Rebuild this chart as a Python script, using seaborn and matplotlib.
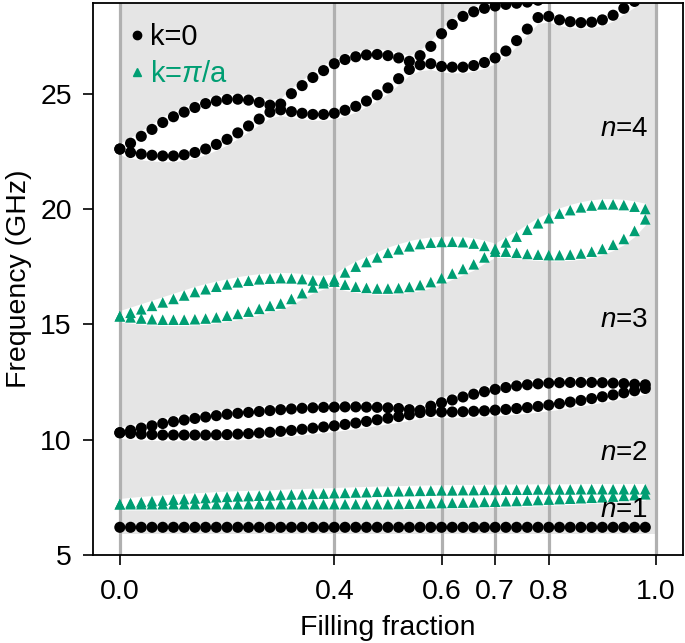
import numpy as np
import pandas as pd
import seaborn as sns
import matplotlib.pyplot as plt
from matplotlib.lines import Line2D

# filling fraction of every computed point
ff = [round(0.02 * i, 2) for i in range(50)]

# band n=1, k=0
k0_n1 = [6.2] * 50

# band n=1, k=pi/a (upper / lower branch)
kpi_n1_up = [7.20, 7.25, 7.29, 7.33, 7.36, 7.40, 7.42, 7.45, 7.47, 7.50,
             7.52, 7.54, 7.55, 7.57, 7.58, 7.60, 7.62, 7.63, 7.65, 7.66,
             7.68, 7.69, 7.71, 7.72, 7.74, 7.75, 7.76, 7.77, 7.78, 7.79,
             7.80, 7.80, 7.81, 7.81, 7.82, 7.82, 7.83, 7.83, 7.83, 7.84,
             7.84, 7.84, 7.84, 7.85, 7.85, 7.85, 7.85, 7.85, 7.85, 7.85]
kpi_n1_lo = [7.20, 7.20, 7.20, 7.20, 7.20, 7.20, 7.20, 7.20, 7.20, 7.20,
             7.20, 7.20, 7.20, 7.20, 7.20, 7.20, 7.20, 7.20, 7.20, 7.20,
             7.20, 7.20, 7.20, 7.20, 7.20, 7.20, 7.21, 7.22, 7.23, 7.24,
             7.25, 7.26, 7.27, 7.28, 7.30, 7.31, 7.33, 7.34, 7.36, 7.38,
             7.40, 7.42, 7.44, 7.46, 7.48, 7.50, 7.53, 7.56, 7.59, 7.63]

# band n=2, k=0
k0_n2_up = [10.30, 10.40, 10.50, 10.60, 10.70, 10.78, 10.85, 10.92, 10.98, 11.04,
            11.10, 11.14, 11.18, 11.22, 11.26, 11.30, 11.33, 11.36, 11.38, 11.40,
            11.41, 11.42, 11.42, 11.41, 11.40, 11.38, 11.35, 11.30, 11.27, 11.45,
            11.60, 11.72, 11.85, 11.97, 12.08, 12.18, 12.26, 12.33, 12.38, 12.42,
            12.45, 12.47, 12.48, 12.48, 12.48, 12.47, 12.45, 12.43, 12.40, 12.38]
k0_n2_lo = [10.30, 10.27, 10.24, 10.22, 10.20, 10.20, 10.20, 10.20, 10.20, 10.21,
            10.22, 10.24, 10.26, 10.29, 10.32, 10.36, 10.40, 10.45, 10.50, 10.55,
            10.60, 10.66, 10.72, 10.79, 10.86, 10.93, 11.00, 11.08, 11.17, 11.22,
            11.20, 11.20, 11.21, 11.23, 11.25, 11.28, 11.31, 11.35, 11.39, 11.44,
            11.50, 11.56, 11.63, 11.70, 11.78, 11.86, 11.94, 12.03, 12.12, 12.22]

# band n=3, k=pi/a
kpi_n3_up = [15.35, 15.50, 15.65, 15.80, 15.95, 16.10, 16.25, 16.40, 16.52, 16.63,
             16.73, 16.82, 16.89, 16.95, 16.98, 17.00, 16.99, 16.96, 16.90, 16.88,
             16.95, 17.25, 17.50, 17.70, 17.90, 18.10, 18.25, 18.38, 18.48, 18.54,
             18.57, 18.58, 18.56, 18.50, 18.40, 18.27, 18.55, 18.80, 19.10, 19.38,
             19.60, 19.80, 19.95, 20.07, 20.15, 20.20, 20.20, 20.17, 20.10, 20.00]
kpi_n3_lo = [15.35, 15.30, 15.25, 15.22, 15.20, 15.20, 15.20, 15.22, 15.25, 15.30,
             15.37, 15.45, 15.55, 15.67, 15.80, 15.90, 16.10, 16.35, 16.60, 16.78,
             16.85, 16.72, 16.63, 16.58, 16.55, 16.55, 16.57, 16.62, 16.70, 16.83,
             17.00, 17.20, 17.40, 17.60, 17.90, 18.15, 18.15, 18.10, 18.05, 18.02,
             18.00, 18.00, 18.02, 18.07, 18.15, 18.27, 18.45, 18.70, 19.05, 19.55]

# band n=4, k=0
k0_n4_up = [22.60, 22.85, 23.15, 23.45, 23.75, 24.00, 24.20, 24.40, 24.57, 24.68,
            24.75, 24.76, 24.72, 24.62, 24.50, 24.55, 25.00, 25.35, 25.70, 26.00,
            26.30, 26.48, 26.60, 26.68, 26.70, 26.65, 26.55, 26.40, 26.65, 27.05,
            27.60, 28.00, 28.35, 28.55, 28.70, 28.80, 28.87, 28.92, 28.97, 29.05,
            29.15, 29.30, 29.45, 29.60, 29.75, 29.90, 30.05, 30.20, 30.35, 30.50]
k0_n4_lo = [22.60, 22.45, 22.38, 22.33, 22.30, 22.30, 22.35, 22.45, 22.60, 22.80,
            23.02, 23.30, 23.60, 23.90, 24.20, 24.30, 24.22, 24.15, 24.10, 24.10,
            24.15, 24.28, 24.45, 24.68, 24.95, 25.25, 25.65, 26.05, 26.25, 26.30,
            26.18, 26.15, 26.15, 26.22, 26.35, 26.55, 26.85, 27.30, 27.80, 28.30,
            28.35, 28.20, 28.12, 28.08, 28.10, 28.20, 28.40, 28.70, 29.00, 29.40]

ff_ticks = [0.0, 0.4, 0.6, 0.7, 0.8, 1.0]
freq_ticks = [5, 10, 15, 20, 25]
band_labels = ["$n$=1", "$n$=2", "$n$=3", "$n$=4"]
band_label_y = [6.95, 9.4, 15.2, 23.45]

green = "#009e73"
bg_gray = "#e5e5e5"

sns.set_theme(style="ticks")
plt.rcParams["font.family"] = ["Liberation Sans", "DejaVu Sans"]
plt.rcParams["mathtext.fontset"] = "custom"
plt.rcParams["mathtext.rm"] = "Liberation Sans"
plt.rcParams["mathtext.it"] = "Liberation Sans:italic"
plt.rcParams["text.color"] = "black"
plt.rcParams["axes.labelcolor"] = "black"
plt.rcParams["xtick.color"] = "black"
plt.rcParams["ytick.color"] = "black"

fig = plt.figure(figsize=(6.85, 6.43), dpi=100)
ax = fig.add_axes([0.1358, 0.1369, 0.861, 0.8584])

# gray band-gap background, white bands on top
ax.fill_between([0, 1], 5.9, 29.5, color=bg_gray, lw=0, zorder=0)
pad = 0.25
for up, lo in [(kpi_n1_up, kpi_n1_lo), (k0_n2_up, k0_n2_lo),
               (kpi_n3_up, kpi_n3_lo), (k0_n4_up, k0_n4_lo)]:
    ax.fill_between(ff, np.array(lo) - pad, np.array(up) + pad,
                    color="white", lw=0, zorder=0.5)

for xv in ff_ticks:
    ax.axvline(xv, color="#b0b0b0", lw=2.3, zorder=1)

# k=0 bands (circles)
df_k0 = pd.DataFrame({
    "ff": ff * 5,
    "freq": k0_n1 + k0_n2_up + k0_n2_lo + k0_n4_up + k0_n4_lo,
})
sns.scatterplot(data=df_k0, x="ff", y="freq", marker="o", color="black",
                s=64, edgecolor="none", linewidth=0, ax=ax, zorder=3)

# k=pi/a bands (triangles)
df_kpi = pd.DataFrame({
    "ff": ff * 4,
    "freq": kpi_n1_up + kpi_n1_lo + kpi_n3_up + kpi_n3_lo,
})
sns.scatterplot(data=df_kpi, x="ff", y="freq", marker="^", color=green,
                s=58, edgecolor="none", linewidth=0, ax=ax, zorder=3)

for lab, yv in zip(band_labels, band_label_y):
    ax.text(0.985, yv, lab, ha="right", va="center", fontsize=20, color="black", zorder=4)

ax.set_xlim(-0.05, 1.05)
ax.set_ylim(5, 28.93)
ax.set_xticks(ff_ticks)
ax.set_xticklabels([f"{v:.1f}" for v in ff_ticks])
ax.set_yticks(freq_ticks)
ax.tick_params(axis="both", labelsize=20.5, length=7.2, width=1.2, color="black",
               labelcolor="black")
ax.tick_params(axis="x", pad=10)
ax.tick_params(axis="y", pad=8)
ax.set_xlabel("Filling fraction", fontsize=20.5, labelpad=7.5)
ax.set_ylabel("Frequency (GHz)", fontsize=20.5, labelpad=6)
for sp in ax.spines.values():
    sp.set_visible(True)
    sp.set_color("black")
    sp.set_linewidth(1.3)

handles = [Line2D([], [], ls="none", marker="o", color="black", ms=6),
           Line2D([], [], ls="none", marker="^", color=green, ms=6)]
leg = ax.legend(handles, ["k=0", "k=$\\pi$/a"], loc="upper left",
                bbox_to_anchor=(0.03, 1.0), frameon=False, fontsize=21,
                handlelength=0.4, handletextpad=0.25, labelspacing=0.3,
                borderaxespad=0.3)
leg.get_texts()[0].set_color("black")
leg.get_texts()[1].set_color(green)

fig.savefig("out.png", dpi=100)
